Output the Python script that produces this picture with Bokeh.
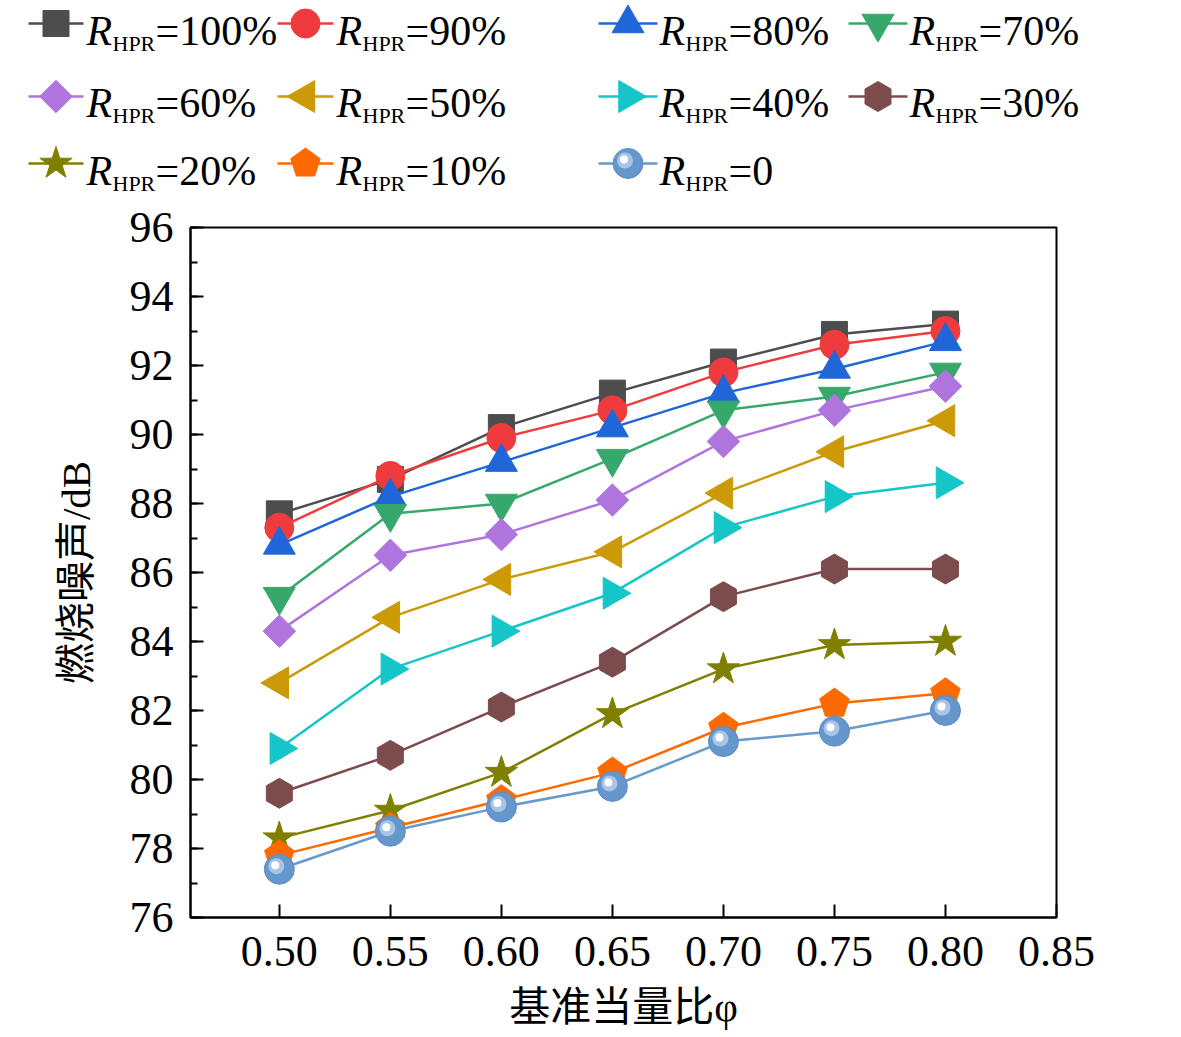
import numpy as np
from bokeh.plotting import figure
from bokeh.models import Range1d, SingleIntervalTicker, FixedTicker, PrintfTickFormatter
from bokeh.core.properties import value
from bokeh.embed import file_html
from bokeh.resources import INLINE

# ---------------- data ----------------
phi = [0.50, 0.55, 0.60, 0.65, 0.70, 0.75, 0.80]
r100 = [87.7, 88.7, 90.2, 91.2, 92.1, 92.9, 93.2]
r90 = [87.3, 88.8, 89.9, 90.7, 91.8, 92.6, 93.0]
r80 = [86.8, 88.2, 89.2, 90.2, 91.2, 91.9, 92.7]
r70 = [85.3, 87.7, 88.0, 89.3, 90.7, 91.1, 91.8]
r60 = [84.3, 86.5, 87.1, 88.1, 89.8, 90.7, 91.4]
r50 = [82.8, 84.7, 85.8, 86.6, 88.3, 89.5, 90.4]
r40 = [80.9, 83.2, 84.3, 85.4, 87.3, 88.2, 88.6]
r30 = [79.6, 80.7, 82.1, 83.4, 85.3, 86.1, 86.1]
r20 = [78.3, 79.1, 80.2, 81.9, 83.2, 83.9, 84.0]
r10 = [77.8, 78.6, 79.4, 80.2, 81.5, 82.2, 82.5]
r0 = [77.4, 78.5, 79.2, 79.8, 81.1, 81.4, 82.0]

labels = ["=100%", "=90%", "=80%", "=70%", "=60%", "=50%", "=40%", "=30%", "=20%", "=10%", "=0"]
series = [r100, r90, r80, r70, r60, r50, r40, r30, r20, r10, r0]
x_ticks = [0.50, 0.55, 0.60, 0.65, 0.70, 0.75, 0.80, 0.85]
x_label = "基准当量比φ"
y_label = "燃烧噪声/dB"

# ---------------- styles ----------------
colors = ["#4d4d4d", "#ef3b3e", "#1f67d8", "#37a86b", "#b074de", "#cc9a06",
          "#15c5c8", "#7c4c4c", "#808000", "#ff6a00", "#6699cc"]
kinds = ["square", "circle", "triangle", "inverted_triangle", "diamond", "left",
         "right", "hex", "star", "pentagon", "sphere"]

SERIF = "Liberation Serif"
CJK = "'Liberation Serif', 'Noto Sans CJK SC'"

W = 1181
FW, FH = 866, 690
X0, X1, Y0, Y1 = 0.46, 0.85, 76, 96


def draw_marker(fig, xs, ys, kind, color, sx, sy, flip=False):
    xs = np.asarray(xs, dtype=float)
    ys = np.asarray(ys, dtype=float)
    up = -1.0 if flip else 1.0
    if kind == "square":
        fig.scatter(xs, ys, marker="square", size=26, fill_color=color, line_color=color)
    elif kind == "circle":
        fig.scatter(xs, ys, marker="circle", size=29, fill_color=color, line_color=color)
    elif kind == "triangle":
        fig.scatter(xs, ys, marker="triangle", size=32, fill_color=color, line_color=color)
    elif kind == "inverted_triangle":
        fig.scatter(xs, ys, marker="inverted_triangle", size=32, fill_color=color, line_color=color)
    elif kind == "diamond":
        fig.scatter(xs, ys, marker="square", size=23, angle=np.pi / 4, fill_color=color, line_color=color)
    elif kind == "left":
        fig.scatter(xs, ys, marker="triangle", size=32, angle=np.pi / 2, fill_color=color, line_color=color)
    elif kind == "right":
        fig.scatter(xs, ys, marker="triangle", size=32, angle=-np.pi / 2, fill_color=color, line_color=color)
    elif kind == "hex":
        fig.scatter(xs, ys, marker="hex", size=30, angle=np.pi / 6, fill_color=color, line_color=color)
    elif kind == "star":
        fig.scatter(xs, ys, marker="star", size=34, fill_color=color, line_color=color)
    elif kind == "pentagon":
        r = 15.5
        th = np.deg2rad(90 + 72 * np.arange(5))
        pxs = [list(cx + r * np.cos(th) * sx) for cx in xs]
        pys = [list(cy + up * r * np.sin(th) * sy) for cy in ys]
        fig.patches(pxs, pys, fill_color=color, line_color=color)
    elif kind == "sphere":
        fig.scatter(xs, ys, marker="circle", size=30, fill_color="#6596cc", line_color="#5b8cc2", line_width=1)
        fig.scatter(xs - 3 * sx, ys + up * 3 * sy, marker="circle", size=16, fill_color="#a8c5e8",
                    line_color=None)
        fig.scatter(xs - 4 * sx, ys + up * 4 * sy, marker="circle", size=8, fill_color="#ffffff",
                    line_color=None)


# ---------------- legend figure (own root, page pixel coordinates) ----------------
LH = 200
lg = figure(width=W, height=LH, x_range=Range1d(0, W), y_range=Range1d(LH, 0),
            output_backend="svg", toolbar_location=None, min_border=0)
lg.axis.visible = False
lg.grid.visible = False
lg.outline_line_color = None
lg.background_fill_color = "white"
lg.border_fill_color = "white"

col_line_x = [(28, 83), (277, 333), (598, 657), (848, 907)]
col_text_x = [86, 336, 659, 909]
row_line_y = [23, 96, 163]
row_base_y = [45, 117, 185]
BIG, SUB = 42, 22

for i, (lab, c, k) in enumerate(zip(labels, colors, kinds)):
    row, col = divmod(i, 4)
    lx0, lx1 = col_line_x[col]
    ly = row_line_y[row]
    lg.line([lx0, lx1], [ly, ly], line_color=c, line_width=2.5)
    draw_marker(lg, [(lx0 + lx1) / 2], [ly], k, c, 1.0, 1.0, flip=True)
    tx = col_text_x[col]
    by = row_base_y[row]
    lg.text([tx], [by - 0.34 * BIG], text=["R"], text_font=value(SERIF), text_font_style="italic",
            text_font_size=f"{BIG}px", text_baseline="alphabetic", text_align="left", text_color="black")
    lg.text([tx + 26], [by + 5 - 0.34 * SUB], text=["HPR"], text_font=value(SERIF),
            text_font_size=f"{SUB}px", text_baseline="alphabetic", text_align="left", text_color="black")
    lg.text([tx + 69], [by - 0.34 * BIG], text=[lab], text_font=value(SERIF),
            text_font_size=f"{BIG}px", text_baseline="alphabetic", text_align="left", text_color="black")

# ---------------- main figure ----------------
MB_L, MB_T = 190, 27
MB_R = W - MB_L - FW
MB_B = 1037 - LH - MB_T - FH
p = figure(width=W, height=FH + MB_T + MB_B, x_range=Range1d(X0, X1), y_range=Range1d(Y0, Y1),
           output_backend="svg", toolbar_location=None,
           min_border_left=MB_L, min_border_right=MB_R, min_border_top=MB_T, min_border_bottom=MB_B)
p.grid.visible = False
p.outline_line_color = "black"
p.outline_line_width = 2
p.outline_line_alpha = 1.0
p.background_fill_color = "white"
p.border_fill_color = "white"

sx = (X1 - X0) / FW
sy = (Y1 - Y0) / FH

for ys, c, k in zip(series, colors, kinds):
    lc = "#6699cc" if k == "sphere" else c
    p.line(phi, ys, line_color=lc, line_width=2.5)
    draw_marker(p, phi, ys, k, c, sx, sy)

xa = p.xaxis[0]
xa.ticker = FixedTicker(ticks=x_ticks, minor_ticks=[])
xa.formatter = PrintfTickFormatter(format="%.2f")
ya = p.yaxis[0]
ya.ticker = SingleIntervalTicker(interval=2, num_minor_ticks=2)

for ax in (xa, ya):
    ax.axis_line_width = 2
    ax.axis_line_color = "black"
    ax.major_tick_line_width = 2
    ax.major_tick_line_color = "black"
    ax.minor_tick_line_width = 2
    ax.minor_tick_line_color = "black"
    ax.major_tick_in = 13
    ax.major_tick_out = 0
    ax.minor_tick_in = 7
    ax.minor_tick_out = 0
    ax.major_label_text_font = SERIF
    ax.major_label_text_font_size = "44px"
    ax.major_label_text_color = "black"
    ax.axis_label_text_font = CJK
    ax.axis_label_text_font_size = "41px"
    ax.axis_label_text_font_style = "normal"
    ax.axis_label_text_color = "black"

xa.axis_label = x_label
ya.axis_label = y_label
xa.major_label_standoff = 19
ya.major_label_standoff = 17
xa.axis_label_standoff = 15
ya.axis_label_standoff = 28

open("out.html", "w").write(file_html((lg, p), INLINE))
